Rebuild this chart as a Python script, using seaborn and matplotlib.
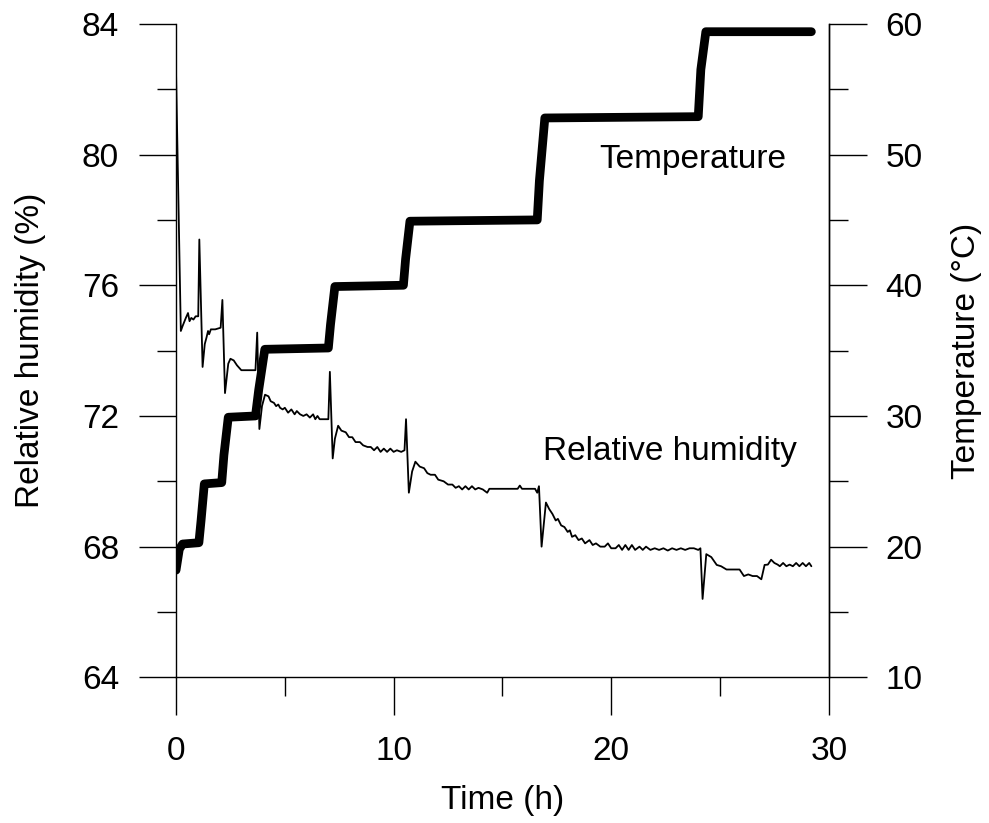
import numpy as np
import pandas as pd
import matplotlib
matplotlib.use('Agg')
import matplotlib.pyplot as plt
import seaborn as sns
from matplotlib.ticker import MultipleLocator

# Data: (time h, value)
temp_readings = [
    (0.0, 18.2), (0.15, 19.8), (0.3, 20.2), (1.05, 20.3), (1.15, 22.0),
    (1.3, 24.8), (2.1, 24.9), (2.2, 27.0), (2.4, 29.9), (3.65, 30.0),
    (3.8, 32.0), (4.08, 35.1), (7.0, 35.2), (7.1, 37.0), (7.3, 39.9),
    (10.45, 40.0), (10.55, 42.0), (10.75, 44.9), (16.6, 45.0), (16.7, 48.0),
    (16.95, 52.8), (24.0, 52.9), (24.12, 56.5), (24.35, 59.4), (29.2, 59.4),
]

rh_readings = [
    (0.0, 82.5), (0.22, 74.6), (0.3, 74.75), (0.45, 75.0), (0.55, 75.15),
    (0.62, 74.9), (0.7, 75.0), (0.8, 74.95), (0.9, 75.05), (1.02, 75.05),
    (1.07, 77.4), (1.22, 73.5), (1.32, 74.2), (1.4, 74.4), (1.47, 74.6),
    (1.52, 74.5), (1.6, 74.65), (1.8, 74.65), (2.05, 74.7), (2.13, 75.55),
    (2.25, 72.7), (2.4, 73.6), (2.5, 73.75), (2.65, 73.7), (2.8, 73.55),
    (3.0, 73.4), (3.55, 73.4), (3.65, 73.4), (3.73, 74.55), (3.83, 71.6),
    (3.95, 72.3), (4.09, 72.65), (4.25, 72.6), (4.35, 72.45), (4.5, 72.4),
    (4.6, 72.3), (4.7, 72.35), (4.78, 72.25), (4.9, 72.2), (5.0, 72.25),
    (5.15, 72.1), (5.3, 72.2), (5.45, 72.05), (5.55, 72.15), (5.7, 72.05),
    (5.85, 72.0), (6.0, 72.05), (6.15, 71.95), (6.3, 72.05), (6.4, 71.9),
    (6.5, 72.0), (6.6, 71.9), (6.8, 71.9), (7.0, 71.9), (7.07, 73.35),
    (7.2, 70.7), (7.3, 71.3), (7.45, 71.7), (7.6, 71.55), (7.8, 71.5),
    (7.95, 71.35), (8.1, 71.35), (8.25, 71.2), (8.45, 71.2), (8.6, 71.1),
    (8.8, 71.05), (8.95, 71.05), (9.1, 70.95), (9.25, 71.05), (9.4, 70.9),
    (9.55, 71.0), (9.7, 70.9), (9.85, 71.0), (10.0, 70.9), (10.15, 70.95),
    (10.35, 70.9), (10.5, 70.95), (10.57, 71.9), (10.7, 69.65), (10.85, 70.3),
    (11.0, 70.6), (11.2, 70.45), (11.4, 70.4), (11.55, 70.25), (11.7, 70.2),
    (11.9, 70.2), (12.05, 70.05), (12.3, 70.0), (12.5, 69.9), (12.7, 69.9),
    (12.85, 69.8), (13.0, 69.85), (13.15, 69.75), (13.3, 69.85), (13.45, 69.75),
    (13.6, 69.85), (13.75, 69.75), (13.9, 69.8), (14.1, 69.75), (14.3, 69.65),
    (14.4, 69.77), (15.0, 69.77), (15.7, 69.77), (15.8, 69.87), (15.9, 69.77),
    (16.5, 69.77), (16.6, 69.65), (16.68, 69.85), (16.8, 68.0), (17.0, 69.35),
    (17.15, 69.15), (17.3, 69.0), (17.45, 68.8), (17.55, 68.85), (17.7, 68.65),
    (17.85, 68.6), (18.0, 68.45), (18.1, 68.5), (18.2, 68.3), (18.35, 68.35),
    (18.5, 68.2), (18.65, 68.25), (18.8, 68.1), (19.0, 68.2), (19.15, 68.05),
    (19.3, 68.1), (19.5, 68.0), (19.7, 68.0), (19.85, 68.1), (20.0, 67.95),
    (20.2, 67.95), (20.35, 68.05), (20.5, 67.9), (20.65, 68.05), (20.8, 67.9),
    (20.95, 68.05), (21.1, 67.9), (21.3, 68.0), (21.45, 67.9), (21.6, 68.0),
    (21.8, 67.9), (22.0, 67.95), (22.2, 67.9), (22.4, 67.95), (22.6, 67.88),
    (22.8, 67.95), (23.0, 67.9), (23.2, 67.95), (23.4, 67.9), (23.6, 67.95),
    (23.8, 67.95), (24.0, 67.9), (24.1, 67.95), (24.2, 66.4), (24.37, 67.77),
    (24.6, 67.68), (24.85, 67.44), (25.05, 67.4), (25.3, 67.3), (25.5, 67.3),
    (25.9, 67.3), (26.1, 67.1), (26.3, 67.15), (26.5, 67.1), (26.7, 67.1),
    (26.9, 67.0), (27.05, 67.44), (27.2, 67.45), (27.35, 67.6), (27.5, 67.5),
    (27.65, 67.45), (27.75, 67.4), (27.9, 67.5), (28.05, 67.4), (28.2, 67.45),
    (28.35, 67.4), (28.5, 67.5), (28.65, 67.4), (28.8, 67.5), (28.95, 67.4),
    (29.1, 67.5), (29.2, 67.4),
]

df_t = pd.DataFrame(temp_readings, columns=['Time', 'Temp'])
df_rh = pd.DataFrame(rh_readings, columns=['Time', 'RH'])

sns.set_style('ticks')
plt.rcParams['font.family'] = ['Liberation Sans', 'DejaVu Sans']
plt.rcParams.update({
    'axes.edgecolor': 'black', 'axes.linewidth': 1.0,
    'text.color': 'black', 'axes.labelcolor': 'black',
    'xtick.color': 'black', 'ytick.color': 'black',
})

fs = 24
fig = plt.figure(figsize=(9.89, 8.23), dpi=100)
ax = fig.add_axes([0.178, 0.177, 0.660, 0.794])
sns.lineplot(x='Time', y='RH', data=df_rh, ax=ax, color='black', lw=1.3,
             sort=False)
ax.set_xlim(0, 30)
ax.set_ylim(64, 84)
ax.xaxis.set_major_locator(MultipleLocator(10))
ax.xaxis.set_minor_locator(MultipleLocator(5))
ax.yaxis.set_major_locator(MultipleLocator(4))
ax.yaxis.set_minor_locator(MultipleLocator(2))
ax.tick_params(which='major', length=27, width=1, labelsize=fs, pad=14)
ax.tick_params(axis='x', which='major', pad=15)
ax.tick_params(which='minor', length=13.5, width=1)
ax.set_xlabel('Time (h)', fontsize=fs, labelpad=13)
ax.set_ylabel('Relative humidity (%)', fontsize=fs, labelpad=26)

ax2 = ax.twinx()
sns.lineplot(x='Time', y='Temp', data=df_t, ax=ax2, color='black', lw=6.3,
             sort=False, solid_capstyle='round', solid_joinstyle='round')
ax2.set_ylim(10, 60)
ax2.yaxis.set_major_locator(MultipleLocator(10))
ax2.yaxis.set_minor_locator(MultipleLocator(5))
ax2.tick_params(which='major', length=27, width=1, labelsize=fs, pad=14)
ax2.tick_params(which='minor', length=13.5, width=1)
ax2.set_ylabel('Temperature (°C)', fontsize=fs, labelpad=20)

for a in (ax, ax2):
    a.spines['top'].set_visible(False)
ax2.spines['left'].set_visible(False)
ax2.spines['bottom'].set_visible(False)

ax.text(0.792, 0.793, 'Temperature', transform=ax.transAxes, fontsize=fs,
        ha='center', va='center')
ax.text(0.756, 0.345, 'Relative humidity', transform=ax.transAxes, fontsize=fs,
        ha='center', va='center')

fig.savefig('out.png', dpi=100)
